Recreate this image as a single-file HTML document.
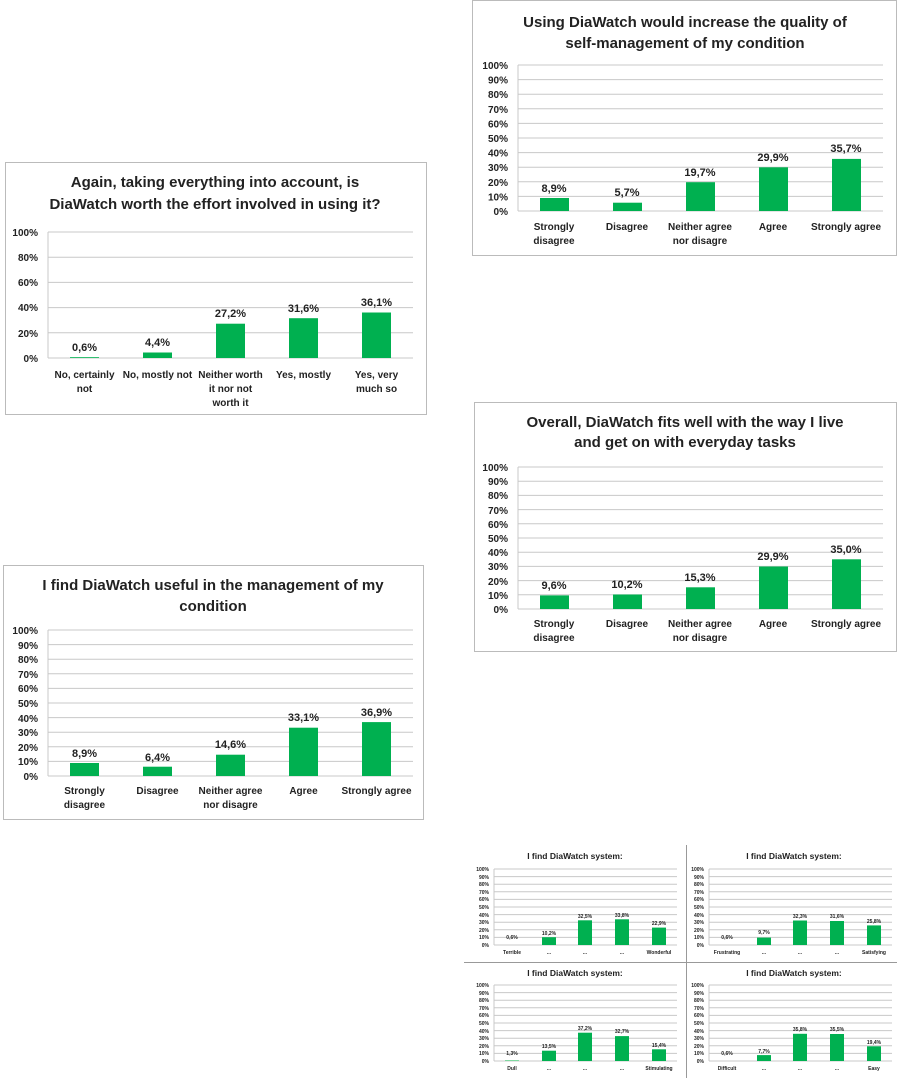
<!DOCTYPE html>
<html><head><meta charset="utf-8"><style>
body{margin:0;background:#fff}
svg{display:block;font-family:"Liberation Sans",sans-serif}
.t{font-size:15px;font-weight:bold;fill:#222;text-anchor:middle}
.y{font-size:10px;font-weight:bold;fill:#222;text-anchor:end}
.c{font-size:10px;font-weight:bold;fill:#222;text-anchor:middle}
.v{font-size:11px;font-weight:bold;fill:#222;text-anchor:middle}
.g{stroke:#c8c8c8;stroke-width:1}
.b{fill:#00b050}
.st{font-size:8.5px;font-weight:bold;fill:#222;text-anchor:middle}
.sy{font-size:5px;font-weight:bold;fill:#222;text-anchor:end}
.sv{font-size:5px;font-weight:bold;fill:#222;text-anchor:middle}
</style></head><body>
<svg width="901" height="1078" viewBox="0 0 901 1078">
<!-- Chart A top-right -->
<rect x="472.5" y="0.5" width="424" height="255" fill="#fff" stroke="#bbb"/>
<text class="t" x="685" y="27">Using DiaWatch would increase the quality of</text>
<text class="t" x="685" y="48">self-management of my condition</text>
<g class="g">
<line x1="518" x2="883" y1="65" y2="65"/><line x1="518" x2="883" y1="79.6" y2="79.6"/><line x1="518" x2="883" y1="94.2" y2="94.2"/><line x1="518" x2="883" y1="108.8" y2="108.8"/><line x1="518" x2="883" y1="123.4" y2="123.4"/><line x1="518" x2="883" y1="138" y2="138"/><line x1="518" x2="883" y1="152.6" y2="152.6"/><line x1="518" x2="883" y1="167.2" y2="167.2"/><line x1="518" x2="883" y1="181.8" y2="181.8"/><line x1="518" x2="883" y1="196.4" y2="196.4"/><line x1="518" x2="883" y1="211" y2="211"/><line x1="518" x2="518" y1="65" y2="211"/></g>
<g><text class="y" x="508" y="69">100%</text><text class="y" x="508" y="83.6">90%</text><text class="y" x="508" y="98.2">80%</text><text class="y" x="508" y="112.8">70%</text><text class="y" x="508" y="127.4">60%</text><text class="y" x="508" y="142">50%</text><text class="y" x="508" y="156.6">40%</text><text class="y" x="508" y="171.2">30%</text><text class="y" x="508" y="185.8">20%</text><text class="y" x="508" y="200.4">10%</text><text class="y" x="508" y="215">0%</text></g>
<rect class="b" x="540" y="198" width="29" height="13"/><rect class="b" x="613" y="202.7" width="29" height="8.3"/><rect class="b" x="686" y="182.2" width="29" height="28.8"/><rect class="b" x="759" y="167.3" width="29" height="43.7"/><rect class="b" x="832" y="158.9" width="29" height="52.1"/>
<text class="v" x="554" y="192">8,9%</text><text class="v" x="627" y="196">5,7%</text><text class="v" x="700" y="176">19,7%</text><text class="v" x="773" y="161">29,9%</text><text class="v" x="846" y="152">35,7%</text>
<text class="c" x="554" y="230">Strongly</text><text class="c" x="554" y="244">disagree</text><text class="c" x="627" y="230">Disagree</text><text class="c" x="700" y="230">Neither agree</text><text class="c" x="700" y="244">nor disagre</text><text class="c" x="773" y="230">Agree</text><text class="c" x="846" y="230">Strongly agree</text>

<!-- Chart B left top -->
<rect x="5.5" y="162.5" width="421" height="252" fill="#fff" stroke="#bbb"/>
<text class="t" x="215" y="187">Again, taking everything into account, is</text>
<text class="t" x="215" y="209">DiaWatch worth the effort involved in using it?</text>
<g class="g"><line x1="48" x2="413" y1="232" y2="232"/><line x1="48" x2="413" y1="257.2" y2="257.2"/><line x1="48" x2="413" y1="282.4" y2="282.4"/><line x1="48" x2="413" y1="307.6" y2="307.6"/><line x1="48" x2="413" y1="332.8" y2="332.8"/><line x1="48" x2="413" y1="358" y2="358"/><line x1="48" x2="48" y1="232" y2="358"/></g>
<text class="y" x="38" y="236">100%</text><text class="y" x="38" y="261">80%</text><text class="y" x="38" y="286">60%</text><text class="y" x="38" y="311">40%</text><text class="y" x="38" y="337">20%</text><text class="y" x="38" y="362">0%</text>
<rect class="b" x="70" y="357.2" width="29" height="0.8"/><rect class="b" x="143" y="352.5" width="29" height="5.5"/><rect class="b" x="216" y="323.7" width="29" height="34.3"/><rect class="b" x="289" y="318.2" width="29" height="39.8"/><rect class="b" x="362" y="312.5" width="29" height="45.5"/>
<text class="v" x="84.5" y="351">0,6%</text><text class="v" x="157.5" y="346">4,4%</text><text class="v" x="230.5" y="317">27,2%</text><text class="v" x="303.5" y="312">31,6%</text><text class="v" x="376.5" y="306">36,1%</text>
<text class="c" x="84.5" y="378">No, certainly</text><text class="c" x="84.5" y="392">not</text><text class="c" x="157.5" y="378">No, mostly not</text><text class="c" x="230.5" y="378">Neither worth</text><text class="c" x="230.5" y="392">it nor not</text><text class="c" x="230.5" y="406">worth it</text><text class="c" x="303.5" y="378">Yes, mostly</text><text class="c" x="376.5" y="378">Yes, very</text><text class="c" x="376.5" y="392">much so</text>

<!-- Chart C right middle -->
<rect x="474.5" y="402.5" width="422" height="249" fill="#fff" stroke="#bbb"/>
<text class="t" x="685" y="427">Overall, DiaWatch fits well with the way I live</text>
<text class="t" x="685" y="447">and get on with everyday tasks</text>
<g class="g"><line x1="518" x2="883" y1="467" y2="467"/><line x1="518" x2="883" y1="481.2" y2="481.2"/><line x1="518" x2="883" y1="495.4" y2="495.4"/><line x1="518" x2="883" y1="509.6" y2="509.6"/><line x1="518" x2="883" y1="523.8" y2="523.8"/><line x1="518" x2="883" y1="538" y2="538"/><line x1="518" x2="883" y1="552.2" y2="552.2"/><line x1="518" x2="883" y1="566.4" y2="566.4"/><line x1="518" x2="883" y1="580.6" y2="580.6"/><line x1="518" x2="883" y1="594.8" y2="594.8"/><line x1="518" x2="883" y1="609" y2="609"/><line x1="518" x2="518" y1="467" y2="609"/></g>
<text class="y" x="508" y="471">100%</text><text class="y" x="508" y="485">90%</text><text class="y" x="508" y="499">80%</text><text class="y" x="508" y="514">70%</text><text class="y" x="508" y="528">60%</text><text class="y" x="508" y="542">50%</text><text class="y" x="508" y="556">40%</text><text class="y" x="508" y="570">30%</text><text class="y" x="508" y="585">20%</text><text class="y" x="508" y="599">10%</text><text class="y" x="508" y="613">0%</text>
<rect class="b" x="540" y="595.4" width="29" height="13.6"/><rect class="b" x="613" y="594.5" width="29" height="14.5"/><rect class="b" x="686" y="587.3" width="29" height="21.7"/><rect class="b" x="759" y="566.5" width="29" height="42.5"/><rect class="b" x="832" y="559.3" width="29" height="49.7"/>
<text class="v" x="554" y="589">9,6%</text><text class="v" x="627" y="588">10,2%</text><text class="v" x="700" y="581">15,3%</text><text class="v" x="773" y="560">29,9%</text><text class="v" x="846" y="553">35,0%</text>
<text class="c" x="554" y="627">Strongly</text><text class="c" x="554" y="641">disagree</text><text class="c" x="627" y="627">Disagree</text><text class="c" x="700" y="627">Neither agree</text><text class="c" x="700" y="641">nor disagre</text><text class="c" x="773" y="627">Agree</text><text class="c" x="846" y="627">Strongly agree</text>

<!-- Chart D left bottom -->
<rect x="3.5" y="565.5" width="420" height="254" fill="#fff" stroke="#bbb"/>
<text class="t" x="213" y="590">I find DiaWatch useful in the management of my</text>
<text class="t" x="213" y="611">condition</text>
<g class="g"><line x1="48" x2="413" y1="630" y2="630"/><line x1="48" x2="413" y1="644.6" y2="644.6"/><line x1="48" x2="413" y1="659.2" y2="659.2"/><line x1="48" x2="413" y1="673.8" y2="673.8"/><line x1="48" x2="413" y1="688.4" y2="688.4"/><line x1="48" x2="413" y1="703" y2="703"/><line x1="48" x2="413" y1="717.6" y2="717.6"/><line x1="48" x2="413" y1="732.2" y2="732.2"/><line x1="48" x2="413" y1="746.8" y2="746.8"/><line x1="48" x2="413" y1="761.4" y2="761.4"/><line x1="48" x2="413" y1="776" y2="776"/><line x1="48" x2="48" y1="630" y2="776"/></g>
<text class="y" x="38" y="634">100%</text><text class="y" x="38" y="649">90%</text><text class="y" x="38" y="663">80%</text><text class="y" x="38" y="678">70%</text><text class="y" x="38" y="692">60%</text><text class="y" x="38" y="707">50%</text><text class="y" x="38" y="722">40%</text><text class="y" x="38" y="736">30%</text><text class="y" x="38" y="751">20%</text><text class="y" x="38" y="765">10%</text><text class="y" x="38" y="780">0%</text>
<rect class="b" x="70" y="763" width="29" height="13"/><rect class="b" x="143" y="766.7" width="29" height="9.3"/><rect class="b" x="216" y="754.7" width="29" height="21.3"/><rect class="b" x="289" y="727.7" width="29" height="48.3"/><rect class="b" x="362" y="722.1" width="29" height="53.9"/>
<text class="v" x="84.5" y="757">8,9%</text><text class="v" x="157.5" y="761">6,4%</text><text class="v" x="230.5" y="748">14,6%</text><text class="v" x="303.5" y="721">33,1%</text><text class="v" x="376.5" y="716">36,9%</text>
<text class="c" x="84.5" y="794">Strongly</text><text class="c" x="84.5" y="808">disagree</text><text class="c" x="157.5" y="794">Disagree</text><text class="c" x="230.5" y="794">Neither agree</text><text class="c" x="230.5" y="808">nor disagre</text><text class="c" x="303.5" y="794">Agree</text><text class="c" x="376.5" y="794">Strongly agree</text>

<!-- Small charts -->
<line x1="686.5" x2="686.5" y1="845" y2="1078" stroke="#999"/>
<line x1="464" x2="897" y1="962.5" y2="962.5" stroke="#999"/>
<text class="st" x="575" y="859">I find DiaWatch system:</text>
<text class="st" x="794" y="859">I find DiaWatch system:</text>
<text class="st" x="575" y="976">I find DiaWatch system:</text>
<text class="st" x="794" y="976">I find DiaWatch system:</text>
<defs>
<g id="grid1" class="g"><line x1="0" x2="183" y1="0" y2="0"/><line x1="0" x2="183" y1="7.6" y2="7.6"/><line x1="0" x2="183" y1="15.2" y2="15.2"/><line x1="0" x2="183" y1="22.8" y2="22.8"/><line x1="0" x2="183" y1="30.4" y2="30.4"/><line x1="0" x2="183" y1="38" y2="38"/><line x1="0" x2="183" y1="45.6" y2="45.6"/><line x1="0" x2="183" y1="53.2" y2="53.2"/><line x1="0" x2="183" y1="60.8" y2="60.8"/><line x1="0" x2="183" y1="68.4" y2="68.4"/><line x1="0" x2="183" y1="76" y2="76"/><line x1="0" x2="0" y1="0" y2="76"/></g>
</defs>
<use href="#grid1" x="494" y="869"/><use href="#grid1" x="709" y="869"/><use href="#grid1" x="494" y="985"/><use href="#grid1" x="709" y="985"/>
<g class="sy">
<text x="489" y="871">100%</text><text x="489" y="879">90%</text><text x="489" y="886">80%</text><text x="489" y="894">70%</text><text x="489" y="901">60%</text><text x="489" y="909">50%</text><text x="489" y="917">40%</text><text x="489" y="924">30%</text><text x="489" y="932">20%</text><text x="489" y="939">10%</text><text x="489" y="947">0%</text>
<text x="704" y="871">100%</text><text x="704" y="879">90%</text><text x="704" y="886">80%</text><text x="704" y="894">70%</text><text x="704" y="901">60%</text><text x="704" y="909">50%</text><text x="704" y="917">40%</text><text x="704" y="924">30%</text><text x="704" y="932">20%</text><text x="704" y="939">10%</text><text x="704" y="947">0%</text>
<text x="489" y="987">100%</text><text x="489" y="995">90%</text><text x="489" y="1002">80%</text><text x="489" y="1010">70%</text><text x="489" y="1017">60%</text><text x="489" y="1025">50%</text><text x="489" y="1033">40%</text><text x="489" y="1040">30%</text><text x="489" y="1048">20%</text><text x="489" y="1055">10%</text><text x="489" y="1063">0%</text>
<text x="704" y="987">100%</text><text x="704" y="995">90%</text><text x="704" y="1002">80%</text><text x="704" y="1010">70%</text><text x="704" y="1017">60%</text><text x="704" y="1025">50%</text><text x="704" y="1033">40%</text><text x="704" y="1040">30%</text><text x="704" y="1048">20%</text><text x="704" y="1055">10%</text><text x="704" y="1063">0%</text>
</g>
<!-- TL -->
<rect class="b" x="542" y="937.2" width="14" height="7.8"/><rect class="b" x="578" y="920.3" width="14" height="24.7"/><rect class="b" x="615" y="919.3" width="14" height="25.7"/><rect class="b" x="652" y="927.6" width="14" height="17.4"/>
<g class="sv"><text x="512" y="939">0,6%</text><text x="549" y="935">10,2%</text><text x="585" y="918">32,5%</text><text x="622" y="917">33,8%</text><text x="659" y="925">22,9%</text></g>
<g class="sv"><text x="512" y="954">Terrible</text><text x="549" y="954">...</text><text x="585" y="954">...</text><text x="622" y="954">...</text><text x="659" y="954">Wonderful</text></g>
<!-- TR -->
<rect class="b" x="757" y="937.6" width="14" height="7.4"/><rect class="b" x="793" y="920.5" width="14" height="24.5"/><rect class="b" x="830" y="921" width="14" height="24"/><rect class="b" x="867" y="925.4" width="14" height="19.6"/>
<g class="sv"><text x="727" y="939">0,6%</text><text x="764" y="934">9,7%</text><text x="800" y="918">32,3%</text><text x="837" y="918">31,6%</text><text x="874" y="923">25,8%</text></g>
<g class="sv"><text x="727" y="954">Frustrating</text><text x="764" y="954">...</text><text x="800" y="954">...</text><text x="837" y="954">...</text><text x="874" y="954">Satisfying</text></g>
<!-- BL -->
<rect x="505" y="1060" width="14" height="1" fill="#7fd8a0"/><rect class="b" x="542" y="1050.7" width="14" height="10.3"/><rect class="b" x="578" y="1032.7" width="14" height="28.3"/><rect class="b" x="615" y="1036.1" width="14" height="24.9"/><rect class="b" x="652" y="1049.3" width="14" height="11.7"/>
<g class="sv"><text x="512" y="1055">1,3%</text><text x="549" y="1048">13,5%</text><text x="585" y="1030">37,2%</text><text x="622" y="1033">32,7%</text><text x="659" y="1047">15,4%</text></g>
<g class="sv"><text x="512" y="1070">Dull</text><text x="549" y="1070">...</text><text x="585" y="1070">...</text><text x="622" y="1070">...</text><text x="659" y="1070">Stimulating</text></g>
<!-- BR -->
<rect class="b" x="757" y="1055.1" width="14" height="5.9"/><rect class="b" x="793" y="1033.8" width="14" height="27.2"/><rect class="b" x="830" y="1034" width="14" height="27"/><rect class="b" x="867" y="1046.3" width="14" height="14.7"/>
<g class="sv"><text x="727" y="1055">0,6%</text><text x="764" y="1053">7,7%</text><text x="800" y="1031">35,8%</text><text x="837" y="1031">35,5%</text><text x="874" y="1044">19,4%</text></g>
<g class="sv"><text x="727" y="1070">Difficult</text><text x="764" y="1070">...</text><text x="800" y="1070">...</text><text x="837" y="1070">...</text><text x="874" y="1070">Easy</text></g>
</svg>
</body></html>
